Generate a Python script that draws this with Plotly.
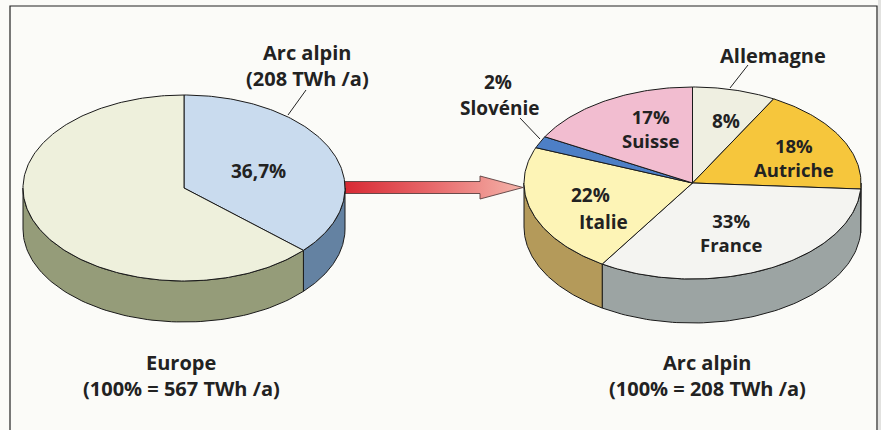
import numpy as np
import plotly.graph_objects as go

# ---------------- data ----------------
europe_labels = ["Arc alpin", "Reste de l'Europe"]
europe_values = [36.7, 63.3]
europe_total_twh = 567
alpine_total_twh = 208
alpine_labels = ["Allemagne", "Autriche", "France", "Italie", "Slovénie", "Suisse"]
alpine_values = [8, 18, 33, 22, 2, 17]

# ---------------- styles ----------------
europe_top_colors = ["#c9dbee", "#eef0dc"]
europe_side_colors = ["#6482a2", "#959c79"]
alpine_top_colors = ["#efefe1", "#f6c63c", "#f4f4f1", "#fdf4b6", "#4d7fc6", "#f2bdd0"]
alpine_side_colors = ["#a8a890", "#c49a2a", "#9ca4a3", "#b49a5a", "#2f5a96", "#b08090"]

W, H = 881, 430
FONT = "Open Sans"
TXT = "#222222"

fig = go.Figure()


def poly(xs, ys, fill, line="#1a1a1a", width=1):
    fig.add_trace(go.Scatter(x=xs, y=ys, mode="lines", fill="toself",
                             fillcolor=fill, line=dict(color=line, width=width),
                             hoverinfo="skip", showlegend=False))


def pie3d(values, tops, sides, cx, cy, rx, ry, depth):
    total = float(sum(values))
    cum = np.concatenate([[0.0], np.cumsum(values)]) / total
    starts = 90 - 360 * cum[:-1]
    ends = 90 - 360 * cum[1:]
    # side walls (visible lower half: param angle in [-180, 0])
    for s, e, col in zip(starts, ends, sides):
        lo, hi = max(e, -180.0), min(s, 0.0)
        if hi - lo > 0.05:
            t = np.radians(np.linspace(hi, lo, 80))
            x = cx + rx * np.cos(t)
            y = cy - ry * np.sin(t)
            xs = np.concatenate([x, x[::-1], [x[0]]])
            ys = np.concatenate([y, y[::-1] + depth, [y[0]]])
            poly(xs, ys, col)
    # top faces
    for s, e, col in zip(starts, ends, tops):
        n = int(abs(s - e)) + 3
        t = np.radians(np.linspace(s, e, n))
        xs = np.concatenate([[cx], cx + rx * np.cos(t), [cx]])
        ys = np.concatenate([[cy], cy - ry * np.sin(t), [cy]])
        poly(xs, ys, col)


# arrow between the pies (drawn first, under the pies)
ax = [345, 480, 480, 523, 480, 480, 345, 345]
ay = [181.5, 181.5, 176, 187.5, 199, 193.5, 193.5, 181.5]
fig.add_trace(go.Scatter(x=ax, y=ay, mode="lines", fill="toself",
                         fillgradient=dict(type="horizontal",
                                           colorscale=[[0, "#d82a34"], [0.5, "#e86a6c"], [1, "#f4b4aa"]]),
                         line=dict(color="#5a4040", width=0.9),
                         hoverinfo="skip", showlegend=False))

pie3d(europe_values, europe_top_colors, europe_side_colors, 184, 188, 161, 93, 41)
pie3d(alpine_values, alpine_top_colors, alpine_side_colors, 692.5, 183, 168.5, 96, 44)

ann = []


def label(x, y, text, size=19):
    ann.append(dict(x=x, y=y, text="<b>" + text + "</b>", showarrow=False,
                    xref="x", yref="y", font=dict(family=FONT, size=size, color=TXT),
                    xanchor="center", yanchor="middle"))


v_alp = europe_values[europe_labels.index("Arc alpin")]
label(307, 52, "Arc alpin", 20)
label(307, 78, "(%d TWh /a)" % alpine_total_twh, 20)
label(258, 171, ("%.1f%%" % v_alp).replace(".", ","))
label(181, 362, "Europe", 20)
label(181, 388, "(100%% = %d TWh /a)" % europe_total_twh, 20)

vals = dict(zip(alpine_labels, alpine_values))
label(773, 55, "Allemagne", 20)
label(498, 82, "%d%%" % vals["Slovénie"])
label(500, 108, "Slovénie")
label(650, 128, "%d%%<br>Suisse" % vals["Suisse"], size=18.5)
label(726, 121, "%d%%" % vals["Allemagne"])
label(794, 157, "%d%%<br>Autriche" % vals["Autriche"], size=18.5)
label(590, 195, "%d%%" % vals["Italie"])
label(603, 222, "Italie")
label(731, 232, "%d%%<br>France" % vals["France"], size=18.5)
label(707, 362, "Arc alpin", 20)
label(707, 388, "(100%% = %d TWh /a)" % alpine_total_twh, 20)

shapes = [
    dict(type="rect", x0=10, y0=6, x1=877, y1=445, line=dict(color="#222", width=1.2),
         fillcolor="rgba(0,0,0,0)", layer="below"),
    dict(type="rect", x0=878, y0=0, x1=890, y1=445, line=dict(width=0), fillcolor="#e2e2e0", layer="below"),
    dict(type="line", x0=306, y0=90, x1=288, y1=115, line=dict(color="#222", width=1)),
    dict(type="line", x0=748, y0=65, x1=730, y1=88, line=dict(color="#222", width=1)),
    dict(type="line", x0=520, y0=118, x1=540, y1=139, line=dict(color="#222", width=1)),
]

fig.update_layout(
    width=W, height=H, margin=dict(l=0, r=0, t=0, b=0),
    paper_bgcolor="#fbfbf8", plot_bgcolor="#fbfbf8",
    xaxis=dict(range=[0, W], visible=False, fixedrange=True),
    yaxis=dict(range=[H, 0], visible=False, fixedrange=True),
    showlegend=False, annotations=ann, shapes=shapes,
)

fig.write_html("out.html", config={"displayModeBar": False},
               post_script="document.body.style.margin='0';document.body.style.overflow='hidden';")
